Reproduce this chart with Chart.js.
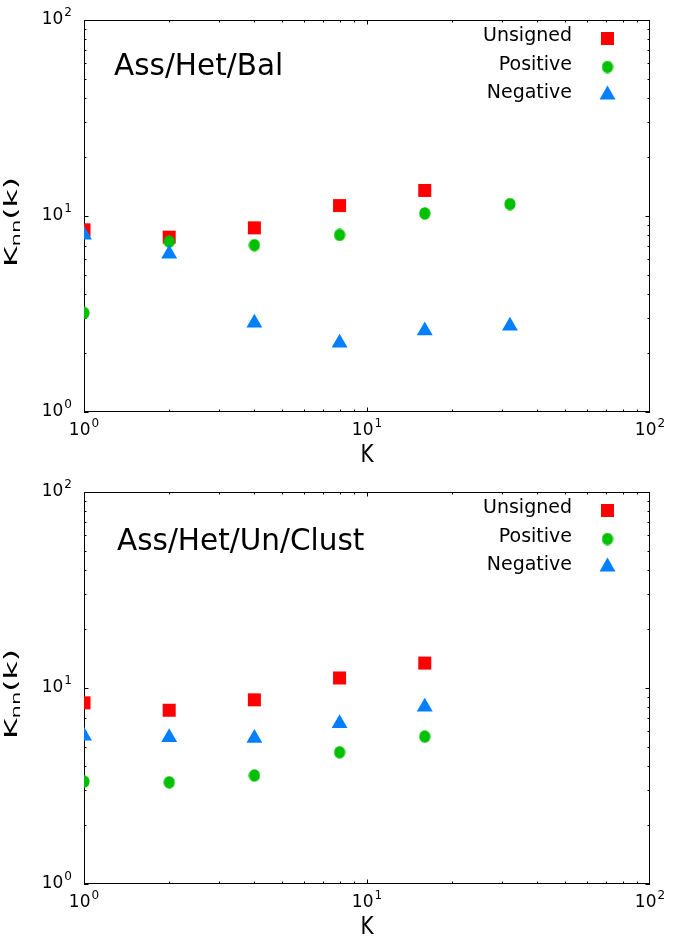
<!DOCTYPE html>
<html>
<head>
<meta charset="utf-8">
<script src="https://cdn.jsdelivr.net/npm/chart.js@4.4.1/dist/chart.umd.min.js"></script>
<style>
  html, body { margin: 0; padding: 0; background: #fff; }
  canvas { display: block; }
</style>
</head>
<body>
<canvas id="top" width="680" height="472"></canvas>
<canvas id="bottom" width="680" height="472"></canvas>
<script>
// degree classes on the x axis
const degrees = [1, 2, 4, 8, 16, 32];

// upper panel: Ass/Het/Bal
const topUnsigned = [8.5, 7.8, 8.7, 11.3, 13.5];
const topPositive = [3.2, 7.4, 7.1, 8.0, 10.3, 11.5];
const topNegative = [8.0, 6.4, 2.85, 2.25, 2.6, 2.75];

// lower panel: Ass/Het/Un/Clust
const botUnsigned = [8.4, 7.7, 8.7, 11.25, 13.4];
const botPositive = [3.33, 3.3, 3.58, 4.7, 5.65];
const botNegative = [5.7, 5.6, 5.55, 6.6, 8.0];

const seriesNames = ["Unsigned", "Positive", "Negative"];
const decades = [1, 10, 100];
const decadeExponents = ["0", "1", "2"];

const RED = "#ff0000";
const GREEN = "#00c000";
const BLUE = "#0080ff";
const FONT = "'DejaVu Sans', sans-serif";

// gnuplot's filled circle comes out slightly taller than wide
const dot = document.createElement("canvas");
dot.width = 12;
dot.height = 13;
{
  const c = dot.getContext("2d");
  c.fillStyle = GREEN;
  c.beginPath();
  c.ellipse(6, 6.5, 5.6, 6.2, 0, 0, Math.PI * 2);
  c.fill();
}

const toPoints = (vals) => vals.map((v, i) => ({ x: degrees[i], y: v }));

const styles = [
  { pointStyle: "rect", radius: 9.2, color: RED },
  { pointStyle: dot, radius: 6, color: GREEN },
  { pointStyle: "triangle", radius: 9.2, color: BLUE },
];

function tenPow(ctx, exp, x, y, align) {
  // draws "10" with a superscript exponent, baseline y
  ctx.font = "17px " + FONT;
  const wBase = ctx.measureText("10").width;
  ctx.font = "12px " + FONT;
  const wExp = ctx.measureText(exp).width;
  const total = wBase + 1 + wExp;
  let left = x;
  if (align === "right") left = x - total;
  if (align === "center") left = x - total / 2;
  ctx.textAlign = "left";
  ctx.textBaseline = "alphabetic";
  ctx.font = "17px " + FONT;
  ctx.fillText("10", left, y);
  ctx.font = "12px " + FONT;
  ctx.fillText(exp, left + wBase + 1, y - 8);
}

const frame = {
  id: "frame",
  beforeDatasetsDraw(chart) {
    const { ctx, chartArea: a, scales } = chart;
    const x = scales.x, y = scales.y;
    ctx.save();
    ctx.strokeStyle = "#000";
    ctx.lineWidth = 1;
    ctx.strokeRect(a.left + 0.5, a.top + 0.5, a.right - a.left - 1, a.bottom - a.top - 1);

    ctx.beginPath();
    [1, 10].forEach((dec) => {
      for (let m = 1; m <= 9; m++) {
        const v = dec * m;
        const len = m === 1 ? 4.5 : 2.5;
        const px = Math.round(x.getPixelForValue(v)) + 0.5;
        ctx.moveTo(px, a.bottom);
        ctx.lineTo(px, a.bottom - len);
        ctx.moveTo(px, a.top);
        ctx.lineTo(px, a.top + len);
        const py = Math.round(y.getPixelForValue(v)) + 0.5;
        ctx.moveTo(a.left, py);
        ctx.lineTo(a.left + len, py);
        ctx.moveTo(a.right, py);
        ctx.lineTo(a.right - len, py);
      }
    });
    ctx.stroke();

    ctx.fillStyle = "#000";
    decades.forEach((v, i) => {
      tenPow(ctx, decadeExponents[i], 72, y.getPixelForValue(v) + 3.5, "right");
      tenPow(ctx, decadeExponents[i], x.getPixelForValue(v), a.bottom + 23, "center");
    });
    ctx.restore();
  },
  afterDraw(chart, args, opts) {
    const { ctx, chartArea: a } = chart;
    ctx.save();
    ctx.fillStyle = "#000";

    // panel title
    ctx.font = "29.5px " + FONT;
    ctx.textAlign = "left";
    ctx.textBaseline = "alphabetic";
    ctx.fillText(opts.title, opts.titleX, opts.titleY);

    // legend, text right-aligned with the sample marker to the right
    const rowText = [41, 70, 97.5];
    const rowMark = [38.5, 67, 94.8];
    ctx.font = "19px " + FONT;
    ctx.textAlign = "right";
    seriesNames.forEach((name, i) => {
      ctx.fillStyle = "#000";
      ctx.fillText(name, 572, rowText[i]);
      ctx.fillStyle = styles[i].color;
      Chart.helpers.drawPoint(ctx, {
        pointStyle: styles[i].pointStyle,
        radius: styles[i].radius,
        rotation: 0,
        borderWidth: 0,
      }, 607.5, rowMark[i]);
    });

    // x axis title
    ctx.fillStyle = "#000";
    ctx.save();
    ctx.translate((a.left + a.right) / 2, 461.5);
    ctx.scale(1, 1.25);
    ctx.font = "20px " + FONT;
    ctx.textAlign = "center";
    ctx.fillText("K", 0, 0);
    ctx.restore();

    // y axis title K_nn(k), rotated and stretched along its length
    ctx.save();
    ctx.translate(17, 222);
    ctx.rotate(-Math.PI / 2);
    ctx.scale(1.75, 1);
    ctx.textAlign = "left";
    ctx.font = "18px " + FONT;
    const wK = ctx.measureText("K").width;
    const wP = ctx.measureText("(k)").width;
    ctx.font = "12px " + FONT;
    const wN = ctx.measureText("nn").width;
    let sx = -(wK + wN + wP) / 2;
    ctx.font = "18px " + FONT;
    ctx.fillText("K", sx, 0);
    sx += wK;
    ctx.font = "12px " + FONT;
    ctx.fillText("nn", sx, 3);
    sx += wN;
    ctx.font = "18px " + FONT;
    ctx.fillText("(k)", sx, 0);
    ctx.restore();

    ctx.restore();
  },
};

function makePanel(id, title, titleX, titleY, unsigned, positive, negative) {
  const sets = [unsigned, positive, negative];
  new Chart(document.getElementById(id), {
    type: "scatter",
    data: {
      datasets: sets.map((vals, i) => ({
        label: seriesNames[i],
        data: toPoints(vals),
        pointStyle: styles[i].pointStyle,
        pointRadius: styles[i].radius,
        backgroundColor: styles[i].color,
        borderColor: styles[i].color,
        borderWidth: 0,
        order: 3 - i,
      })),
    },
    options: {
      responsive: false,
      animation: false,
      events: [],
      layout: { padding: { left: 84, right: 30, top: 20, bottom: 60 } },
      scales: {
        x: { type: "logarithmic", min: 1, max: 100, display: false },
        y: { type: "logarithmic", min: 1, max: 100, display: false },
      },
      plugins: {
        legend: { display: false },
        tooltip: { enabled: false },
        frame: { title: title, titleX: titleX, titleY: titleY },
      },
    },
    plugins: [frame],
  });
}

makePanel("top", "Ass/Het/Bal", 114, 75, topUnsigned, topPositive, topNegative);
makePanel("bottom", "Ass/Het/Un/Clust", 117, 78, botUnsigned, botPositive, botNegative);
</script>
</body>
</html>
